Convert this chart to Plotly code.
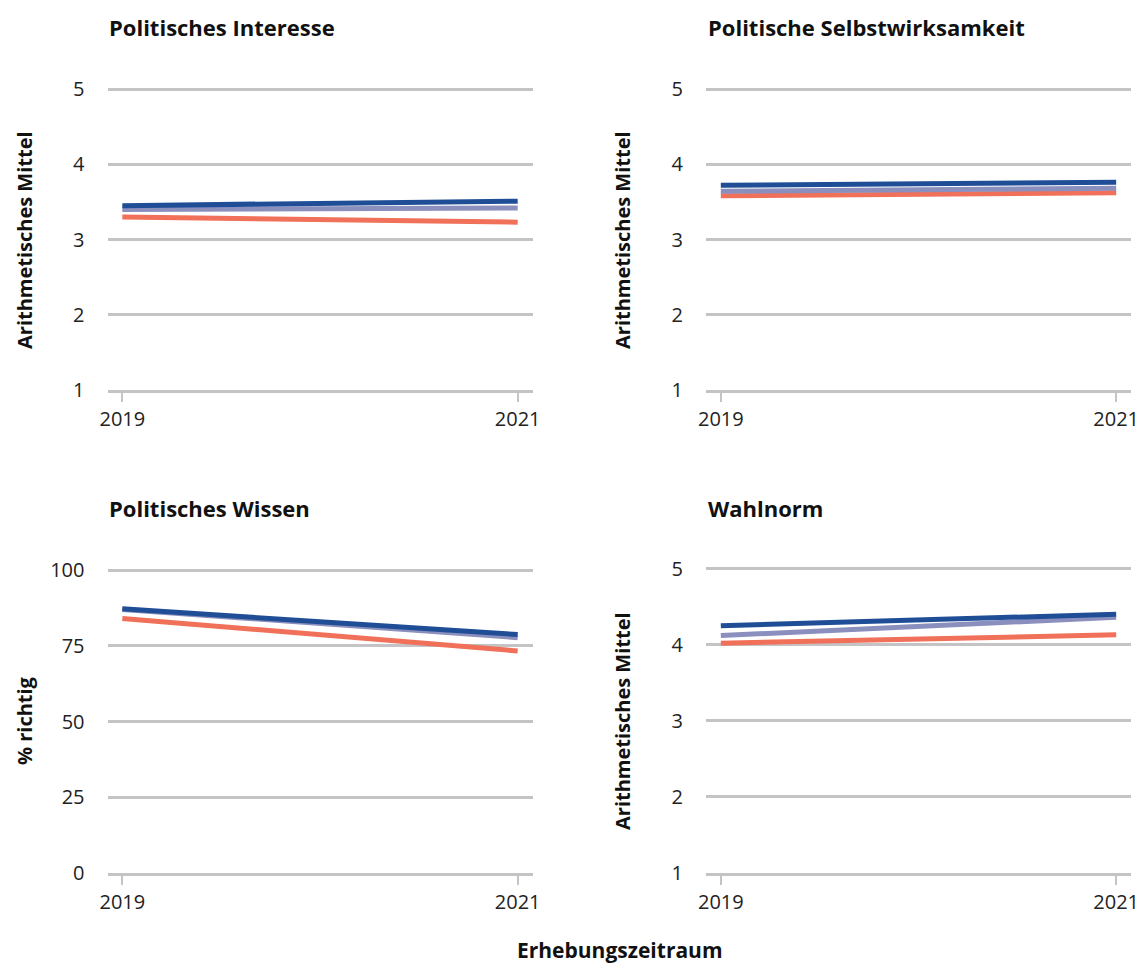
import plotly.graph_objects as go

years = [2019, 2021]
panel_titles = ["Politisches Interesse", "Politische Selbstwirksamkeit", "Politisches Wissen", "Wahlnorm"]
y_titles = ["Arithmetisches Mittel", "Arithmetisches Mittel", "% richtig", "Arithmetisches Mittel"]
x_title = "Erhebungszeitraum"

series_names = ["Gruppe C", "Gruppe B", "Gruppe A"]  # drawn order: orange, light, dark
series_colors = ["#f07059", "#8a8fbe", "#1f4e96"]

interesse = [[3.30, 3.23], [3.40, 3.42], [3.45, 3.51]]
selbstwirksamkeit = [[3.58, 3.62], [3.64, 3.68], [3.72, 3.76]]
wissen = [[84.0, 73.3], [87.0, 77.7], [87.2, 78.7]]
wahlnorm = [[4.02, 4.13], [4.12, 4.36], [4.25, 4.40]]
panels = [interesse, selbstwirksamkeit, wissen, wahlnorm]

mean_ticks = [1, 2, 3, 4, 5]
pct_ticks = [0, 25, 50, 75, 100]

OFF = 8  # page body margin
FW, FH = 1136, 959
FONT = "Open Sans"
GRID = "#c4c4c6"


def px(x):
    return (x - OFF) / FW


def py(y):
    return 1 - (y - OFF) / FH


x_doms = [(px(107.5), px(532.5)), (px(706), px(1131))]
y_doms = [(py(390), py(81.5)), (py(873), py(561))]

fig = go.Figure()
layout = {}
for i, data in enumerate(panels):
    r, c = divmod(i, 2)
    ax = "" if i == 0 else str(i + 1)
    for name, col, vals in zip(series_names, series_colors, data):
        fig.add_trace(go.Scatter(x=years, y=vals, mode="lines", name=name,
                                 line=dict(color=col, width=5), showlegend=False,
                                 xaxis="x" + ax, yaxis="y" + ax))
    is_pct = (i == 2)
    ticks = pct_ticks if is_pct else mean_ticks
    yr = [0, 103] if is_pct else [1, 5.1]
    layout["xaxis" + ax] = dict(domain=x_doms[c], anchor="y" + ax, range=[2018.925, 2021.075],
                                tickvals=years, ticktext=[str(y) for y in years],
                                showgrid=False, zeroline=False, showline=True, automargin=False,
                                linecolor=GRID, linewidth=2.5, ticks="outside", ticklen=9,
                                tickwidth=2, tickcolor=GRID,
                                tickfont=dict(family=FONT, size=20, color="#222"))
    layout["yaxis" + ax] = dict(domain=y_doms[r], anchor="x" + ax, range=yr,
                                tickvals=ticks, showgrid=True, gridcolor=GRID, gridwidth=2.5,
                                zeroline=False, showline=False, ticks="", automargin=False,
                                ticklabelstandoff=22,
                                tickfont=dict(family=FONT, size=20, color="#222"))

annotations = []
title_pos = [(107, 27), (706, 27), (107, 508), (706, 508)]
for t, (x, y) in zip(panel_titles, title_pos):
    annotations.append(dict(text="<b>" + t + "</b>", x=px(x), y=py(y), xref="paper", yref="paper",
                            xanchor="left", yanchor="middle", showarrow=False,
                            font=dict(family=FONT, size=22, color="#111")))
ytitle_pos = [(24, 240), (622, 240), (24, 721), (622, 721)]
for t, (x, y) in zip(y_titles, ytitle_pos):
    annotations.append(dict(text="<b>" + t + "</b>", x=px(x), y=py(y), xref="paper", yref="paper",
                            xanchor="center", yanchor="middle", showarrow=False, textangle=-90,
                            font=dict(family=FONT, size=20, color="#111")))
annotations.append(dict(text="<b>" + x_title + "</b>", x=px(620), y=py(950), xref="paper", yref="paper",
                        xanchor="center", yanchor="middle", showarrow=False,
                        font=dict(family=FONT, size=21, color="#111")))

fig.update_layout(width=FW, height=FH, margin=dict(l=0, r=0, t=0, b=0, autoexpand=False),
                  paper_bgcolor="white", plot_bgcolor="white",
                  annotations=annotations, **layout)
fig.write_html("out.html")
